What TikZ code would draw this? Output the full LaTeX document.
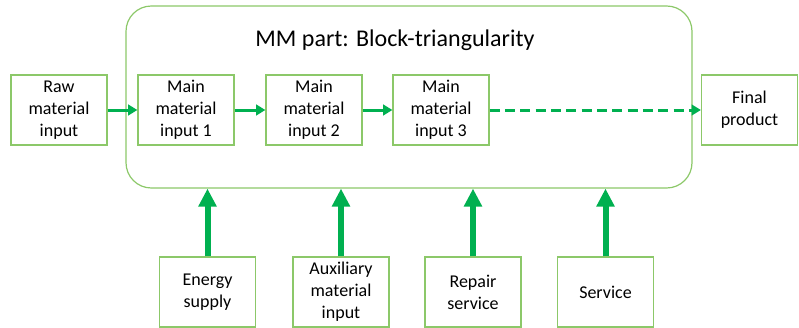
\documentclass[tikz,border=0pt]{standalone}
\usepackage{fontspec}
\setmainfont{Carlito}
\usetikzlibrary{arrows.meta}
\definecolor{boxgreen}{RGB}{140,200,105}
\definecolor{arrgreen}{RGB}{0,176,80}
\begin{document}
\begin{tikzpicture}[x=0.75pt,y=-0.75pt,
  box/.style={draw=boxgreen, line width=0.9pt, fill=white, minimum width=72pt, minimum height=52.5pt,
    inner sep=0pt, align=center, font=\fontsize{13.5}{16.5}\selectfont},
  harr/.style={draw=arrgreen, line width=2.25pt, -{Triangle[length=7pt,width=8pt]}},
  varr/.style={draw=arrgreen, line width=4.5pt, -{Triangle[length=13.5pt,width=13pt]}}]
\useasboundingbox (0,0) rectangle (799,328);
\node[draw=boxgreen, line width=0.9pt, rounded corners=19pt, minimum width=424.5pt, minimum height=136.5pt, inner sep=0pt] (mm) at (409,97) {};
\node[font=\fontsize{18}{21}\selectfont] (title) at (395,40) {MM part: Block-triangularity};
\node[box] (raw) at (59,110) {Raw\\material\\input};
\node[box] (m1) at (186,110) {Main\\material\\input 1};
\node[box] (m2) at (314,110) {Main\\material\\input 2};
\node[box] (m3) at (441,110) {Main\\material\\input 3};
\node[box] (fp) at (749.5,110) {Final\\product};
\node[box] (es) at (207.5,292) {Energy\\supply};
\node[box] (aux) at (341,292) {Auxiliary\\material\\input};
\node[box] (rs) at (473,292) {Repair\\service};
\node[box] (sv) at (605.5,292) {Service};
\draw[harr] (raw) -- (m1);
\draw[harr] (m1) -- (m2);
\draw[harr] (m2) -- (m3);
\draw[harr, dash pattern=on 7.5pt off 4pt] (m3) -- (fp);
\draw[varr] (es.north) -- (es.north |- mm.south);
\draw[varr] (aux.north) -- (aux.north |- mm.south);
\draw[varr] (rs.north) -- (rs.north |- mm.south);
\draw[varr] (sv.north) -- (sv.north |- mm.south);
\end{tikzpicture}
\end{document}
